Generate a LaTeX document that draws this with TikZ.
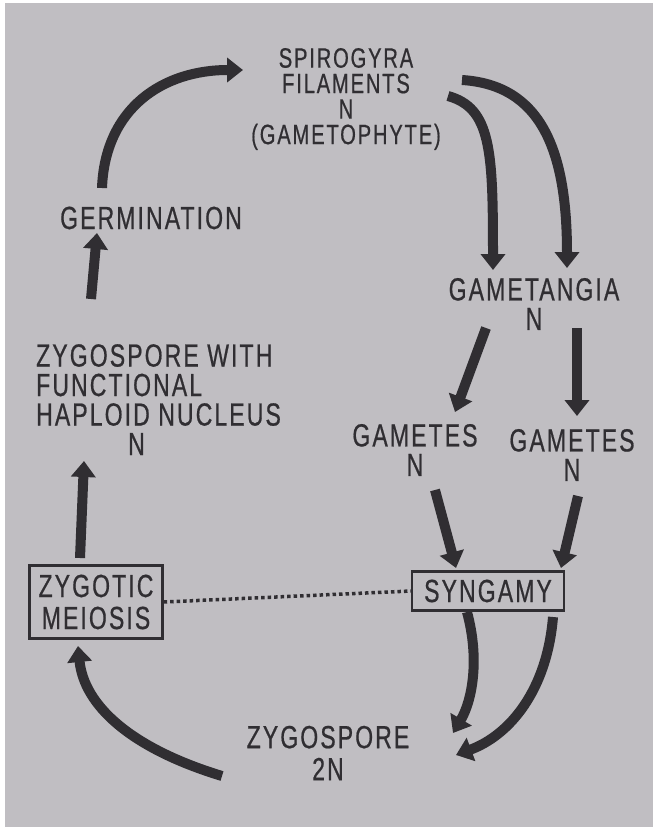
\documentclass[tikz,border=0pt]{standalone}
\usepackage{fontspec}
\setmainfont{Liberation Sans}[FakeStretch=0.72,LetterSpace=6.5,FakeBold=0.6]
\usetikzlibrary{arrows.meta}
\definecolor{paper}{RGB}{192,190,194}
\definecolor{ink}{RGB}{48,46,50}

\begin{document}
\begin{tikzpicture}[x=1pt,y=-1pt,
  lbl/.style={text=ink,font=\fontsize{32}{29.5}\selectfont,align=center,inner sep=0pt},
  stagebox/.style={lbl,draw=ink,line width=2.5pt,inner xsep=9pt,inner ysep=9pt},
  flow/.style={draw=ink,line width=10pt,-{Triangle[length=16pt,width=24pt]}},
  link/.style={draw=ink,line width=3.5pt,dash pattern=on 3.5pt off 3pt}]
\fill[white] (0,0) rectangle (653,827);
\fill[paper] (5,3) rectangle (653,827);
\useasboundingbox (0,0) rectangle (653,827);

\node[lbl,font=\fontsize{28}{25.5}\selectfont] (fil) at (346,99) {SPIROGYRA\\FILAMENTS\\N\\(GAMETOPHYTE)};
\node[lbl] (germ) at (151,218) {GERMINATION};
\node[lbl] (gam) at (534,304) {GAMETANGIA\\N};
\node[lbl,align=left,anchor=north west] (zw) at (36,344) {ZYGOSPORE WITH\\FUNCTIONAL\\HAPLOID NUCLEUS\\\hspace*{92pt}N};
\node[lbl] (gml) at (415,450) {GAMETES\\N};
\node[lbl] (gmr) at (572,455) {GAMETES\\N};
\node[stagebox,font=\fontsize{32}{32}\selectfont] (meio) at (96,602) {ZYGOTIC\\MEIOSIS};
\node[stagebox,inner xsep=12pt,inner ysep=8pt] (syn) at (488,591) {SYNGAMY};
\node[lbl,font=\fontsize{32}{32}\selectfont] (zyg) at (328,753) {ZYGOSPORE\\2N};

\draw[flow] ([shift={(-49,-30)}]germ.center) .. controls +(3,-80) and +(-80,0) .. ([shift={(-103,-29)}]fil.center);
\draw[flow] ([shift={(55,-45)}]zw.north west) -- ([shift={(-54,15)}]germ.center);
\draw[flow] ([shift={(-16,-44)}]meio.center) -- ([shift={(48,117)}]zw.north west);
\draw[flow] ([shift={(102,-3)}]fil.center) .. controls +(43,12) and +(0,-120) .. ([shift={(-41,-34)}]gam.center);
\draw[flow] ([shift={(116,-19)}]fil.center) .. controls +(79,5) and +(0,-118) .. ([shift={(33,-36)}]gam.center);
\draw[flow] ([shift={(-48,24)}]gam.center) -- ([shift={(40,-38)}]gml.center);
\draw[flow] ([shift={(43,24)}]gam.center) -- ([shift={(5,-39)}]gmr.center);
\draw[flow] ([shift={(20,40)}]gml.center) -- ([shift={(-32,-23)}]syn.center);
\draw[flow] ([shift={(6,41)}]gmr.center) -- ([shift={(73,-23)}]syn.center);
\draw[flow] ([shift={(-21,21)}]syn.center) .. controls +(13,48) and +(19,-32) .. ([shift={(125,-20)}]zyg.center);
\draw[flow] ([shift={(65,26)}]syn.center) .. controls +(-6,73) and +(54,-20) .. ([shift={(128,2)}]zyg.center);
\draw[flow] ([shift={(-106,23)}]zyg.center) .. controls +(-92,-28) and +(6,59) .. ([shift={(-18,44)}]meio.center);
\draw[link] (meio.east) -- (syn.west);
\end{tikzpicture}
\end{document}
